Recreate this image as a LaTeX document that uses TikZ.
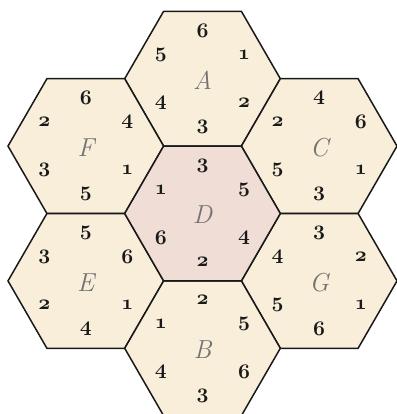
\documentclass[tikz,border=0pt]{standalone}
\usetikzlibrary{shapes.geometric}
\definecolor{hexfill}{RGB}{248,238,217}
\definecolor{hexcenter}{RGB}{240,222,214}
\definecolor{lettergray}{RGB}{115,115,115}
\newcommand{\osn}[1]{{\fontsize{20.74}{21}\usefont{OML}{cmm}{b}{it}#1}}
\tikzset{
  hexa/.style={regular polygon, regular polygon sides=6, minimum size=155.6pt,
    inner sep=0pt, outer sep=0pt, draw=black!90, line width=1.5pt, fill=hexfill},
  hexlabel/.style={text=lettergray, font=\fontsize{26}{27}\selectfont\itshape, inner sep=0pt},
  numlabel/.style={inner sep=0pt, text=black!90}
}
\newcommand{\hexnums}[7]{%
  \foreach \ang/\val [count=\k] in {90/#2,30/#3,-30/#4,-90/#5,-150/#6,150/#7}
    \path (#1.center) ++(\ang:48pt) node[numlabel] (#1n\k) {\osn{\val}};
}
\begin{document}
\begin{tikzpicture}[x=1pt,y=-1pt]
\useasboundingbox (0,0) rectangle (396,414);
\node[hexa] (A) at (202.5,78.7) {};
\node[hexa] (F) at (85.8,146.1) {};
\node[hexa] (C) at (319.2,146.1) {};
\node[hexa] (E) at (85.8,280.9) {};
\node[hexa] (G) at (319.2,280.9) {};
\node[hexa] (B) at (202.5,348.3) {};
\node[hexa, fill=hexcenter] (D) at (202.5,213.5) {};
\foreach \h in {A,B,C,D,E,F,G}
  \node[hexlabel] (\h lab) at ([yshift=-1.5pt]\h.center) {\h};
\hexnums{A}{6}{1}{2}{3}{4}{5}
\hexnums{D}{3}{5}{4}{2}{6}{1}
\hexnums{F}{6}{4}{1}{5}{3}{2}
\hexnums{E}{5}{6}{1}{4}{2}{3}
\hexnums{C}{4}{6}{1}{3}{5}{2}
\hexnums{B}{2}{5}{6}{3}{4}{1}
\hexnums{G}{3}{2}{1}{6}{5}{4}
\end{tikzpicture}
\end{document}
